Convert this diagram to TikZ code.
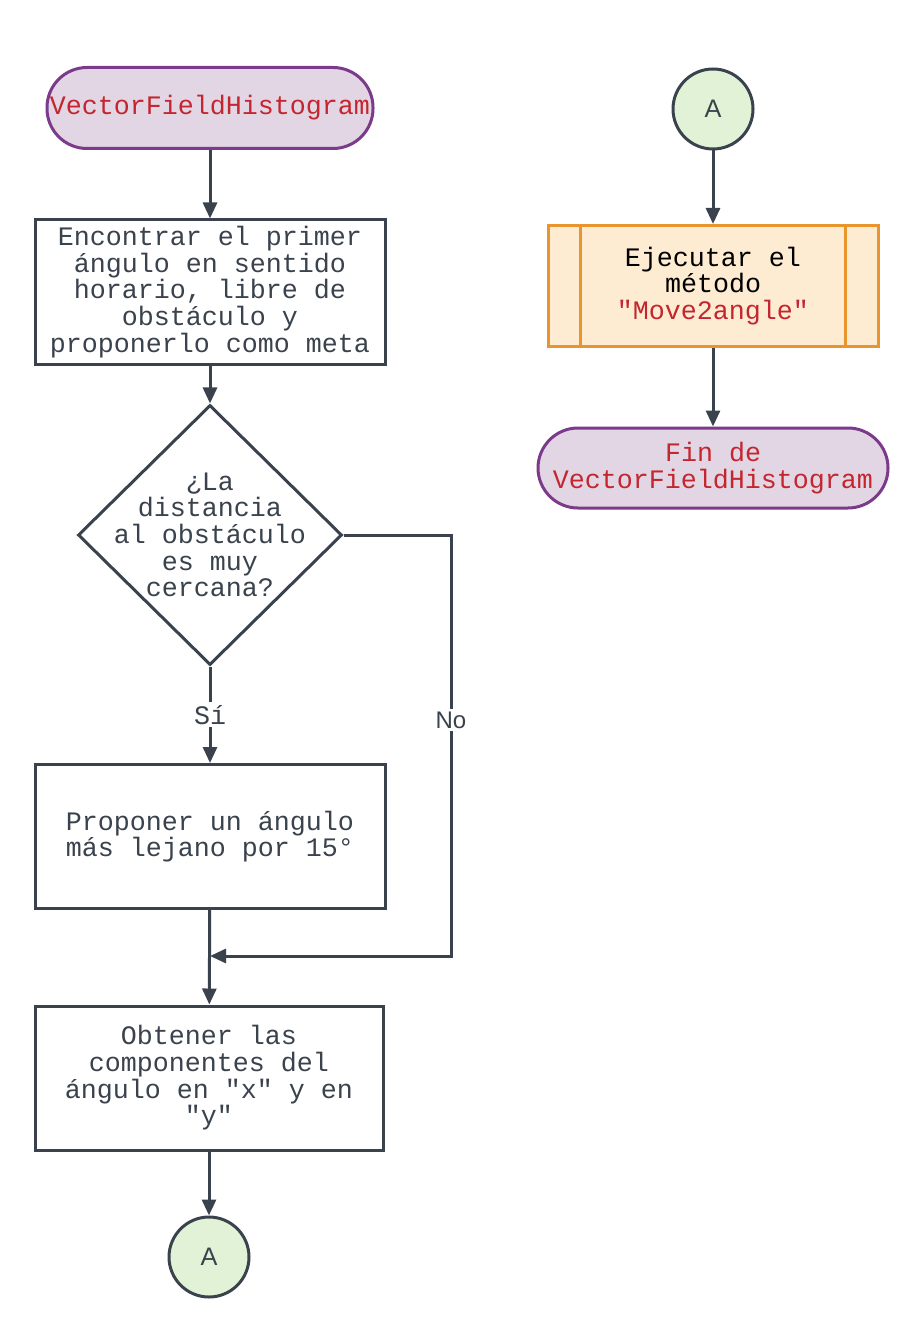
\documentclass[tikz,border=0pt]{standalone}
\usepackage{xcolor}
\usepackage{fontspec}
\setmainfont{Liberation Mono}[Ligatures=TeXOff]
\newfontfamily\tagfont{Liberation Sans}
\usepackage{tikz}
\usetikzlibrary{positioning,arrows.meta,shapes.geometric}
\definecolor{linec}{HTML}{3A434D}
\definecolor{termline}{HTML}{7B3A8A}
\definecolor{termfill}{HTML}{E2D6E4}
\definecolor{termtext}{HTML}{C3262F}
\definecolor{confill}{HTML}{E2F2D6}
\definecolor{subline}{HTML}{E8952E}
\definecolor{subfill}{HTML}{FDEBD2}

\begin{document}
\begin{tikzpicture}[
  x=0.75pt, y=-0.75pt,
  line width=2.25pt, color=linec,
  every node/.style={align=center, font=\fontsize{20}{20}\selectfont},
  terminal/.style={rectangle, rounded corners=30pt, draw=termline, fill=termfill, text=termtext, minimum width=244.5pt, minimum height=60.75pt, inner xsep=1pt},
  process/.style={rectangle, draw, fill=white, minimum width=262.5pt, minimum height=108pt},
  decision/.style={diamond, draw, fill=white, minimum width=198pt, minimum height=195pt, inner sep=0pt},
  connector/.style={circle, draw, fill=confill, minimum size=60pt, inner sep=0pt, font=\tagfont\fontsize{19}{19}\selectfont},
  subproc/.style={rectangle, draw=subline, fill=subfill, text=black, minimum width=247.5pt, minimum height=90.75pt},
  flow/.style={-{Triangle[length=12pt,width=10.5pt]}},
  tag/.style={fill=white, inner sep=2pt}
]
\useasboundingbox (0,0) rectangle (912,1323);

% left column
\node[terminal] (start) at (210,108) {VectorFieldHistogram};
\node[process] (find) at (210,292) {Encontrar el primer\\ángulo en sentido\\horario, libre de\\obstáculo y\\proponerlo como meta};
\node[decision] (check) at (210,535) {};
\node (checktxt) at (check.center) {¿La\\distancia\\al obstáculo\\es muy\\cercana?};
\node[process] (propose) at (210,836.5) {Proponer un ángulo\\más lejano por 15°};
\node[process, minimum width=261pt] (comps) at (209,1078) {Obtener las\\componentes del\\ángulo en "x" y en\\"y"};
\node[connector] (conA) at (209,1257) {A};
\coordinate (merge) at (210,956);
\coordinate (nobend) at (451,956);

% right column
\node[connector] (conB) at (713,109) {A};
\node[subproc] (exec) at (713,286) {Ejecutar el\\método\\\textcolor{termtext}{"Move2angle"}};
\draw[subline] ([xshift=25.5pt]exec.north west) -- ([xshift=25.5pt]exec.south west);
\draw[subline] ([xshift=-25.5pt]exec.north east) -- ([xshift=-25.5pt]exec.south east);
\node[terminal, minimum width=262.5pt, minimum height=60pt] (finish) at (713,468) {Fin de\\VectorFieldHistogram};

% connectors
\draw[flow] (start) -- (find);
\draw[flow] (find) -- (check);
\draw[flow] (check) -- node[tag] {Sí} (propose);
\draw[flow] (check.east) -| node[tag, pos=0.72, font=\tagfont\fontsize{18}{18}\selectfont] {No} (nobend) -- (merge);
\draw[flow] (propose) -- (comps);
\draw[flow] (comps) -- (conA);
\draw[flow] (conB) -- (exec);
\draw[flow] (exec) -- (finish);
\end{tikzpicture}
\end{document}
